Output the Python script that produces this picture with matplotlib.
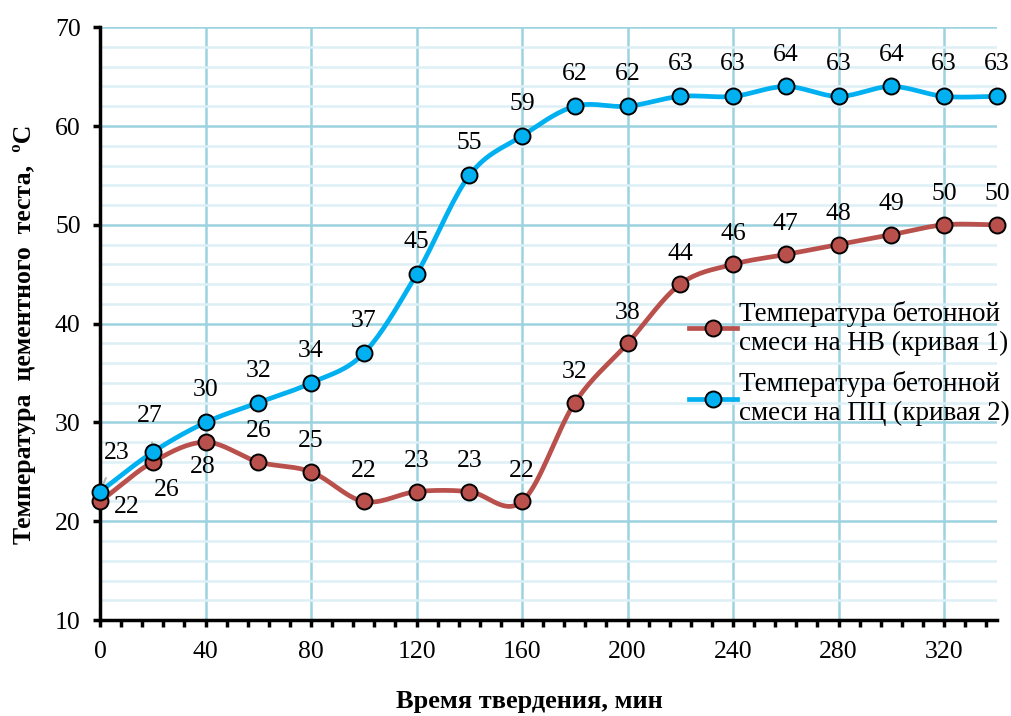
import numpy as np
import matplotlib.pyplot as plt
from matplotlib.ticker import MultipleLocator

plt.rcParams['font.family'] = ['Liberation Serif', 'DejaVu Serif']

# данные
time_min = [0, 20, 40, 60, 80, 100, 120, 140, 160, 180, 200, 220, 240, 260, 280, 300, 320, 340]
temp_nv = [22, 26, 28, 26, 25, 22, 23, 23, 22, 32, 38, 44, 46, 47, 48, 49, 50, 50]
temp_pc = [23, 27, 30, 32, 34, 37, 45, 55, 59, 62, 62, 63, 63, 64, 63, 64, 63, 63]
label_nv = 'Температура бетонной\nсмеси на НВ (кривая 1)'
label_pc = 'Температура бетонной\nсмеси на ПЦ (кривая 2)'

red = '#B9504C'
blue = '#00B0F0'


def smooth(x, y, n=20):
    # сглаживание как в Excel (Catmull-Rom)
    x = np.asarray(x, float)
    y = np.asarray(y, float)
    px = np.concatenate([[2 * x[0] - x[1]], x, [2 * x[-1] - x[-2]]])
    py = np.concatenate([[2 * y[0] - y[1]], y, [2 * y[-1] - y[-2]]])
    xs, ys = [], []
    t = np.linspace(0, 1, n)
    for i in range(1, len(px) - 2):
        for p, out in ((px, xs), (py, ys)):
            p0, p1, p2, p3 = p[i - 1], p[i], p[i + 1], p[i + 2]
            out.extend(0.5 * (2 * p1 + (-p0 + p2) * t
                              + (2 * p0 - 5 * p1 + 4 * p2 - p3) * t ** 2
                              + (-p0 + 3 * p1 - 3 * p2 + p3) * t ** 3))
    return xs, ys


fig = plt.figure(figsize=(10.11, 7.16), dpi=100)
ax = fig.add_axes([0.099, 0.134, 0.887, 0.828])

for xv, yv, c, lab in ((time_min, temp_nv, red, label_nv), (time_min, temp_pc, blue, label_pc)):
    sx, sy = smooth(xv, yv)
    ax.plot(sx, sy, color=c, lw=3.4, zorder=3)
    ax.plot(xv, yv, 'o', color=c, mec='black', mew=1.4, ms=11.5, zorder=4, clip_on=False)
    ax.plot([], [], '-o', color=c, lw=3.4, mec='black', mew=1.4, ms=11.5, label=lab)

# подписи значений
fs = 18.5
lead = dict(arrowstyle='-', color='#BBBBBB', lw=1.5, shrinkA=9, shrinkB=2)
for i, (xv, yv) in enumerate(zip(time_min, temp_nv)):
    off = {0: (19, -4), 1: (10, -20), 2: (-2, -18)}.get(i, (0, 22))
    ax.annotate(str(yv), (xv, yv), xytext=off, textcoords='offset points',
                fontsize=fs, ha='center', va='center', annotation_clip=False)

for i, (xv, yv) in enumerate(zip(time_min, temp_pc)):
    if i == 0:
        ax.annotate(str(yv), (xv, yv), xytext=(12, 28), textcoords='offset points', fontsize=fs,
                    ha='center', va='center', arrowprops=lead, annotation_clip=False)
    elif i == 1:
        ax.annotate(str(yv), (xv, yv), xytext=(-2, 26), textcoords='offset points', fontsize=fs,
                    ha='center', va='center', arrowprops=lead)
    else:
        ax.annotate(str(yv), (xv, yv), xytext=(0, 23), textcoords='offset points', fontsize=fs,
                    ha='center', va='center', annotation_clip=False)

ax.set_xlim(0, 340)
ax.set_ylim(10, 70)
ax.xaxis.set_major_locator(MultipleLocator(40))
ax.xaxis.set_minor_locator(MultipleLocator(8))
ax.yaxis.set_major_locator(MultipleLocator(10))
ax.yaxis.set_minor_locator(MultipleLocator(2))

ax.grid(which='major', color='#9CD3E0', lw=1.8, zorder=0)
ax.grid(which='minor', axis='y', color='#DDF0F6', lw=1.8, zorder=0)
ax.set_axisbelow(True)

for s in ('top', 'right'):
    ax.spines[s].set_visible(False)
for s in ('left', 'bottom'):
    ax.spines[s].set_linewidth(2.5)
ax.tick_params(which='major', direction='out', length=5, width=2.5, labelsize=18.5)
ax.tick_params(axis='x', which='major', pad=10)
ax.tick_params(axis='y', which='major', pad=9)
ax.tick_params(which='minor', direction='out', length=5, width=2.5)
ax.tick_params(axis='y', which='minor', length=0)

ax.set_xlabel('Время твердения, мин', fontsize=19, fontweight='bold')
ax.xaxis.set_label_coords(0.479, -0.118)
ax.set_ylabel('Температура  цементного  теста,  ºС', fontsize=18.5, fontweight='bold')
ax.yaxis.set_label_coords(-0.072, 0.482)

ax.legend(loc='upper left', bbox_to_anchor=(0.645, 0.557), frameon=False, fontsize=19.5,
          handlelength=1.75, handletextpad=0.1, labelspacing=0.57, borderaxespad=0)

fig.savefig('out.png', dpi=100)
